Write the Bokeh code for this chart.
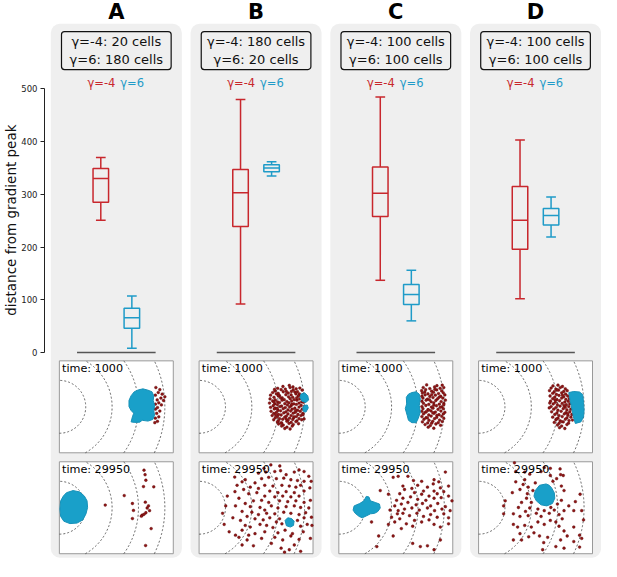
import numpy as np
from bokeh.plotting import figure
from bokeh.models import Range1d, FixedTicker, Title
from bokeh.core.properties import value
from bokeh.embed import file_html
from bokeh.resources import INLINE

# ---------------- data ----------------
groups = ["A", "B", "C", "D"]
n_red = [20, 180, 100, 100]     # gamma=-4 cells
n_blue = [180, 20, 100, 100]    # gamma=6 cells

# box plot statistics (distance from gradient peak)
red_lo = [251, 92, 137, 102]
red_q1 = [285, 239, 258, 196]
red_med = [330, 303, 302, 251]
red_q3 = [349, 347, 352, 315]
red_hi = [370, 480, 485, 403]
blue_lo = [8, 335, 60, 219]
blue_q1 = [46, 343, 91, 242]
blue_med = [66, 350, 110, 260]
blue_q3 = [84, 356, 129, 273]
blue_hi = [107, 362, 156, 295]

y_ticks = [0, 100, 200, 300, 400, 500]
times = ["time: 1000", "time: 29950"]
ring_radii = [100, 200, 300, 400]

# snapshot cell positions (x: distance from peak along gradient, y: lateral)
a1_blue = [[(299, 64), (317, 68), (336, 63), (351, 57), (358, 42), (356, 24), (361, 5), (358, -14),
            (361, -32), (354, -48), (336, -54), (314, -51), (305, -58), (286, -59), (272, -57),
            (277, -38), (282, -24), (272, -14), (264, 1), (264, 24), (272, 42), (284, 57)]]
a1_red = [(366, 73), (381, 65), (375, 54), (390, 48), (400, 38), (364, 44), (385, 33), (371, 26),
          (395, 24), (377, 15), (364, 10), (387, 7), (372, -3), (364, -9), (381, -16), (369, -25),
          (377, -38), (364, -43), (372, -55), (362, -60)]

a2_blue = [[(27, 57), (52, 65), (77, 60), (95, 44), (105, 26), (107, 1), (101, -23), (89, -46),
            (67, -58), (40, -60), (17, -51), (5, -33), (2, -5), (5, 26), (15, 44)]]
a2_red = [(321, 142), (325, 125), (328, 104), (319, 80), (358, 79), (246, 46), (277, 16), (326, 21),
          (174, 10), (281, -10), (333, -1), (328, -19), (314, -28), (321, -25), (277, -41),
          (348, -79), (327, -143), (342, -11), (311, -32), (338, 7)]

b1_blue = [[(386, 48), (400, 53), (412, 42), (415, 26), (405, 16), (390, 21), (383, 36)],
           [(398, 5), (410, 7), (414, -4), (405, -20), (395, -17), (393, -5)]]
b1_red = [(318, 77), (342, 81), (356, 75),
          (298, 70), (327, 67), (345, 73), (368, 68), (382, 71),
          (288, 60), (311, 65), (331, 58), (357, 64), (373, 57), (391, 63),
          (279, 54), (300, 51), (319, 57), (338, 52), (363, 56), (380, 49),
          (271, 44), (293, 49), (305, 42), (329, 46), (349, 45), (367, 49), (385, 43),
          (284, 36), (302, 41), (315, 34), (339, 38), (355, 36), (376, 41), (393, 37),
          (269, 30), (289, 26), (309, 33), (323, 27), (345, 31), (361, 27), (381, 30),
          (279, 22), (297, 19), (315, 25), (333, 20), (351, 22), (371, 25), (389, 19),
          (267, 14), (287, 11), (305, 16), (325, 12), (341, 15), (359, 11), (379, 14), (396, 17),
          (281, 4), (297, 8), (313, 3), (335, 7), (349, 4), (369, 9), (387, 5),
          (271, -2), (289, -5), (307, 1), (327, -3), (343, -1), (363, -5), (379, -1), (399, 1),
          (285, -8), (299, -13), (319, -7), (337, -12), (353, -9), (373, -13), (391, -9),
          (273, -17), (293, -21), (309, -15), (329, -19), (347, -16), (365, -21), (383, -17),
          (283, -25), (301, -29), (321, -23), (337, -27), (357, -24), (375, -29), (393, -25),
          (277, -33), (297, -37), (311, -31), (331, -35), (349, -33), (369, -37), (386, -33),
          (289, -41), (305, -45), (325, -39), (343, -43), (359, -41), (379, -45),
          (283, -49), (301, -53), (317, -47), (337, -51), (355, -48), (371, -53), (389, -49),
          (297, -57), (313, -61), (333, -55), (349, -59), (367, -56),
          (301, -65), (319, -69), (341, -63), (357, -67), (377, -64),
          (313, -73), (333, -77), (353, -73), (325, -82), (345, -84),
          (286, 66), (350, 58), (300, 42), (370, 34), (284, 18), (352, 10), (296, -6), (366, -14),
          (290, -30), (360, -38), (310, -62), (330, -46), (394, -30), (396, 46), (398, -46)]

b2_blue = [[(326, -48), (336, -38), (351, -41), (360, -51), (358, -67), (346, -73), (331, -68)]]
b2_red = [(272, 162), (306, 158), (246, 149), (379, 143), (135, 116), (225, 131), (253, 135),
          (287, 137), (309, 140), (361, 135), (398, 137), (330, 125), (416, 119), (175, 106),
          (237, 110), (264, 115), (293, 110), (321, 112), (348, 106), (373, 103), (398, 100),
          (425, 100), (163, 98), (212, 94), (144, 85), (194, 78), (249, 85), (280, 82), (314, 85),
          (342, 82), (367, 78), (385, 85), (420, 75), (225, 73), (169, 69), (107, 44), (136, 61),
          (188, 53), (219, 57), (268, 63), (299, 57), (330, 61), (361, 57), (398, 63), (249, 44),
          (287, 41), (317, 44), (348, 41), (379, 44), (151, 36), (206, 26), (237, 28), (264, 20),
          (305, 26), (336, 23), (367, 26), (398, 20), (422, 28), (175, 16), (101, 7), (138, 7),
          (194, 4), (231, 1), (274, 7), (299, -1), (330, 4), (361, 7), (385, 1), (416, -1),
          (249, -9), (89, -21), (163, -14), (200, -17), (225, -26), (256, -21), (287, -23),
          (321, -17), (348, -21), (379, -26), (404, -19), (182, -33), (128, -38), (157, -48),
          (212, -42), (243, -46), (268, -38), (305, -42), (373, -48), (398, -38), (426, -36),
          (293, -54), (95, -63), (175, -67), (194, -73), (231, -63), (256, -67), (314, -61),
          (385, -70), (410, -63), (428, -67), (280, -75), (114, -91), (163, -85), (188, -104),
          (138, -104), (249, -91), (299, -95), (326, -85), (354, -98), (395, -91), (212, -98),
          (151, -112), (182, -122), (237, -116), (287, -112), (317, -122), (348, -107),
          (379, -120), (422, -116), (163, -141), (206, -144), (274, -135), (311, -153),
          (342, -159), (361, -141), (385, -165), (324, -168)]

c1_blue = [[(277, 54), (293, 57), (305, 48), (309, 30), (305, 5), (309, -20), (301, -44), (293, -60),
            (277, -60), (264, -51), (259, -32), (252, -7), (257, 11), (256, 36), (264, 48)]]
c1_red = [(333, 83), (372, 80), (392, 82),
          (320, 73), (345, 69), (363, 75), (384, 70), (398, 73),
          (314, 61), (329, 65), (352, 59), (371, 64), (390, 60),
          (317, 52), (338, 49), (359, 55), (378, 50), (396, 53),
          (315, 40), (327, 45), (345, 39), (366, 44), (386, 40), (402, 45),
          (319, 33), (336, 29), (357, 35), (374, 30), (394, 33),
          (315, 21), (331, 25), (350, 19), (368, 24), (388, 20), (404, 25),
          (321, 13), (341, 9), (360, 15), (381, 10), (398, 13),
          (315, 1), (330, 5), (351, -1), (370, 4), (391, 0),
          (319, -7), (338, -11), (357, -5), (376, -10), (396, -7),
          (315, -17), (328, -21), (349, -15), (366, -20), (387, -16), (402, -21),
          (321, -27), (341, -31), (360, -25), (380, -30), (396, -27),
          (315, -37), (331, -41), (350, -35), (371, -40), (390, -36),
          (323, -47), (342, -51), (363, -45), (382, -50),
          (317, -57), (337, -61), (356, -55), (377, -60), (392, -56),
          (327, -67), (347, -71), (368, -65), (386, -70),
          (339, -77), (360, -81),
          (326, 56), (352, 46), (380, 36), (344, 26), (360, 6), (384, -2), (340, -12), (356, -22),
          (372, -32), (336, -42), (398, -44), (352, -62), (332, -18), (364, 66), (398, 8)]

c2_blue = [[(58, 7), (79, 16), (95, 26), (104, 43), (114, 41), (120, 26), (138, 20), (154, 14),
            (157, -1), (148, -14), (136, -21), (120, -23), (104, -31), (89, -38), (77, -33),
            (62, -21), (54, -9)]]
c2_red = [(404, 135), (225, 119), (206, 115), (262, 119), (283, 103), (361, 106), (314, 100),
          (379, 98), (157, 65), (243, 82), (249, 69), (277, 73), (299, 85), (336, 78), (358, 90),
          (385, 75), (416, 82), (321, 63), (361, 63), (188, 51), (231, 53), (287, 57), (314, 51),
          (342, 44), (373, 53), (398, 61), (243, 36), (272, 41), (299, 32), (330, 28), (361, 36),
          (388, 38), (416, 44), (429, 26), (219, 28), (194, -9), (212, 7), (237, 14), (262, 20),
          (293, 11), (317, 16), (348, 7), (375, 16), (404, 4), (249, -5), (277, -1), (305, -9),
          (336, -1), (363, -11), (391, -5), (422, -11), (225, -11), (200, -36), (222, -23),
          (243, -21), (268, -30), (296, -21), (321, -33), (348, -26), (373, -36), (398, -23),
          (416, -38), (231, -42), (287, -48), (342, -46), (124, -54), (188, -63), (212, -54),
          (256, -61), (280, -70), (314, -54), (361, -63), (385, -73), (416, -61), (237, -79),
          (151, -107), (206, -107), (280, -135), (309, -147), (336, -144), (144, -147),
          (361, -159), (385, -122)]

d1_blue = [[(342, 54), (361, 58), (383, 56), (395, 46), (398, 17), (400, -14), (398, -38), (388, -57),
            (367, -63), (361, -44), (356, -20), (351, 5), (346, 30)]]
d1_red = [(282, 79), (301, 82), (318, 77),
          (275, 71), (293, 67), (310, 73), (329, 68),
          (269, 61), (287, 57), (303, 63), (323, 58), (336, 61),
          (281, 51), (295, 47), (315, 53), (330, 48),
          (271, 41), (289, 37), (305, 43), (323, 38), (338, 41),
          (281, 31), (297, 27), (315, 33), (331, 28), (344, 31),
          (273, 21), (291, 17), (307, 23), (327, 18), (340, 21),
          (283, 11), (299, 7), (317, 13), (333, 8), (346, 11),
          (275, 1), (293, -3), (309, 3), (329, -2), (342, 1),
          (285, -9), (301, -13), (321, -7), (335, -12), (350, -9),
          (277, -19), (297, -23), (313, -17), (331, -22), (346, -19),
          (289, -29), (305, -33), (325, -27), (339, -32), (354, -29),
          (281, -39), (301, -43), (317, -37), (335, -42), (350, -39),
          (293, -49), (309, -53), (329, -47), (343, -52),
          (287, -59), (305, -63), (321, -57), (341, -62),
          (299, -69), (315, -73), (335, -67),
          (307, -79), (327, -82),
          (298, 64), (318, 44), (290, 26), (324, 4), (268, -4), (296, -46), (314, -56),
          (338, -26), (270, 14), (356, -50)]

d2_blue = [[(231, 85), (256, 90), (268, 85), (277, 75), (287, 57), (289, 36), (280, 16), (259, 7),
            (237, 11), (219, 26), (210, 44), (215, 65)]]
d2_red = [(136, 170), (249, 152), (272, 149), (309, 147), (141, 137), (175, 135), (194, 127),
          (237, 137), (272, 122), (321, 122), (296, 110), (282, 100), (141, 98), (169, 88),
          (188, 78), (157, 69), (206, 65), (128, 57), (185, 53), (324, 65), (314, 82), (385, 51),
          (367, 23), (342, 7), (324, -11), (182, 36), (163, 20), (200, 20), (151, 1), (194, -1),
          (178, -14), (132, -23), (157, -33), (188, -30), (219, -21), (237, -33), (268, -21),
          (287, -9), (305, -26), (317, -42), (293, -54), (272, -48), (249, -63), (225, -54),
          (200, -73), (175, -67), (148, -73), (210, -95), (231, -107), (190, -110), (163, -122),
          (247, -132), (262, -112), (305, -70), (324, -88), (361, -73), (383, -104), (398, -46),
          (336, -107), (311, -122), (361, -128), (324, -153), (243, -159), (293, -147), (95, 7),
          (101, 26), (95, -23), (132, -63), (157, -98), (132, -122), (361, -11), (391, -11),
          (249, -11), (225, -5), (274, 1), (299, 14), (314, 28), (175, 106), (215, 94),
          (391, -116), (311, 125), (383, -149)]

snap_red = [[a1_red, a2_red], [b1_red, b2_red], [c1_red, c2_red], [d1_red, d2_red]]
snap_blue = [[a1_blue, a2_blue], [b1_blue, b2_blue], [c1_blue, c2_blue], [d1_blue, d2_blue]]

# ---------------- styling / layout ----------------
RED = "#c8272d"
BLUE = "#1f9bc8"
CELL_RED = "#8e1616"
CELL_RED_EDGE = "#5a0808"
CELL_BLUE = "#19a0c9"
PANEL = "#efefef"
FONT = value("DejaVu Sans")

PXU = 144.0     # reference px per group
PXV = 0.542     # reference px per distance unit
SNAP_W, SNAP_HALF = 432.0, 174.0
LOC_PX = 117.4 / SNAP_W        # px per snapshot unit
SNAP_MID = [-103.1, -294.6]    # snapshot vertical centres (distance units)

W, H = 601, 561
p = figure(width=W, height=H, output_backend="svg", toolbar_location=None,
           x_range=Range1d(-0.514, 3.472), y_range=Range1d(-396.6, 667.9),
           x_axis_location=None, y_axis_location="left",
           min_border_left=42, min_border_right=0, min_border_top=0, min_border_bottom=0)
p.grid.visible = False
p.outline_line_color = None
p.background_fill_color = "white"
p.border_fill_color = "white"

ax = p.yaxis[0]
ax.ticker = FixedTicker(ticks=y_ticks)
ax.bounds = (0, 500)
ax.major_label_text_font = "DejaVu Sans"
ax.major_label_text_font_size = "8.5px"
ax.major_label_text_color = "#222222"
ax.major_label_standoff = 3
ax.minor_tick_line_color = None
ax.major_tick_in = 0
ax.major_tick_out = 4
ax.axis_line_color = "#222222"
ax.major_tick_line_color = "#222222"

# axis title, placed along the axis bounds (0..500)
p.add_layout(Title(text="distance from gradient peak", align="right", offset=124, standoff=0,
                   text_font="DejaVu Sans", text_font_style="normal", text_font_size="13.5px",
                   text_color="#111111"), "left")

cx = np.arange(len(groups), dtype=float)

# grey rounded panels
p.quad(left=cx - 67.5 / PXU, right=cx + 67.5 / PXU, top=623.6, bottom=-389.3,
       fill_color=PANEL, line_color=None, border_radius=9)

# titles
p.text(x=cx, y=646.0, text=groups, text_align="center", text_baseline="middle",
       text_font=FONT, text_font_style="bold", text_font_size="21px", text_color="black")

# info boxes
info = [f"\u03b3=-4: {a} cells\n\u03b3=6: {b} cells" for a, b in zip(n_red, n_blue)]
p.quad(left=cx - 56.5 / PXU, right=cx + 56.5 / PXU, top=608.9, bottom=536.9,
       fill_color=PANEL, line_color="#111111", line_width=1.2, border_radius=3)
p.text(x=cx, y=572.9, text=info, text_align="center", text_baseline="middle",
       text_font=FONT, text_font_size="13px", text_line_height=1.22, text_color="#111111")

# legends
p.text(x=cx - 1 / PXU, y=511, text=["\u03b3=-4"] * 4, text_align="right", text_baseline="middle",
       text_font=FONT, text_font_size="11.5px", text_color=RED)
p.text(x=cx + 4 / PXU, y=511, text=["\u03b3=6"] * 4, text_align="left", text_baseline="middle",
       text_font=FONT, text_font_size="11.5px", text_color=BLUE)

# box plots
half_box = 8.0 / PXU
half_cap = 5.0 / PXU
for off, col, lo, q1, md, q3, hi in [(-16 / PXU, RED, red_lo, red_q1, red_med, red_q3, red_hi),
                                     (16 / PXU, BLUE, blue_lo, blue_q1, blue_med, blue_q3, blue_hi)]:
    xc = cx + off
    p.segment(x0=xc, y0=q3, x1=xc, y1=hi, line_color=col, line_width=1.5)
    p.segment(x0=xc, y0=q1, x1=xc, y1=lo, line_color=col, line_width=1.5)
    p.segment(x0=xc - half_cap, y0=hi, x1=xc + half_cap, y1=hi, line_color=col, line_width=1.5)
    p.segment(x0=xc - half_cap, y0=lo, x1=xc + half_cap, y1=lo, line_color=col, line_width=1.5)
    p.quad(left=xc - half_box, right=xc + half_box, bottom=q1, top=q3,
           fill_color=None, line_color=col, line_width=1.5)
    p.segment(x0=xc - half_box, y0=md, x1=xc + half_box, y1=md, line_color=col, line_width=1.5)

# baseline under each panel's box plots
p.segment(x0=cx - 40.5 / PXU, y0=[0] * 4, x1=cx + 40.5 / PXU, y1=[0] * 4,
          line_color="#555555", line_width=1.5)


def to_u(i, lx):
    return i - (SNAP_W / 2) * LOC_PX / PXU + np.asarray(lx, dtype=float) * LOC_PX / PXU


def to_v(r, ly):
    return SNAP_MID[r] + np.asarray(ly, dtype=float) * LOC_PX / PXV


for i in range(len(groups)):
    for r in range(2):
        p.quad(left=[to_u(i, 0)], right=[to_u(i, SNAP_W)], bottom=[to_v(r, -SNAP_HALF)],
               top=[to_v(r, SNAP_HALF)], fill_color="white", line_color="#999999", line_width=1)
        for rad in ring_radii:
            lim = np.arcsin(min(1.0, SNAP_HALF / rad))
            th = np.linspace(-lim, lim, 90)
            p.line(to_u(i, rad * np.cos(th)), to_v(r, rad * np.sin(th)),
                   line_color="#555555", line_width=0.9, line_dash="2 2")
        reds = snap_red[i][r]
        rx = [q[0] for q in reds]
        ry = [q[1] for q in reds]
        p.scatter(to_u(i, rx), to_v(r, ry), size=2.8, fill_color=CELL_RED,
                  line_color=CELL_RED_EDGE, line_width=0.4)
        blobs = snap_blue[i][r]
        p.patches([list(to_u(i, [q[0] for q in b])) for b in blobs],
                  [list(to_v(r, [q[1] for q in b])) for b in blobs],
                  fill_color=CELL_BLUE, line_color="#1791b8", line_width=1)
        p.text(x=[to_u(i, 10)], y=[to_v(r, 168)], text=[times[r]], text_align="left",
               text_baseline="top", text_font=FONT, text_font_size="11.2px", text_color="black")

open("out.html", "w").write(file_html(p, INLINE))
